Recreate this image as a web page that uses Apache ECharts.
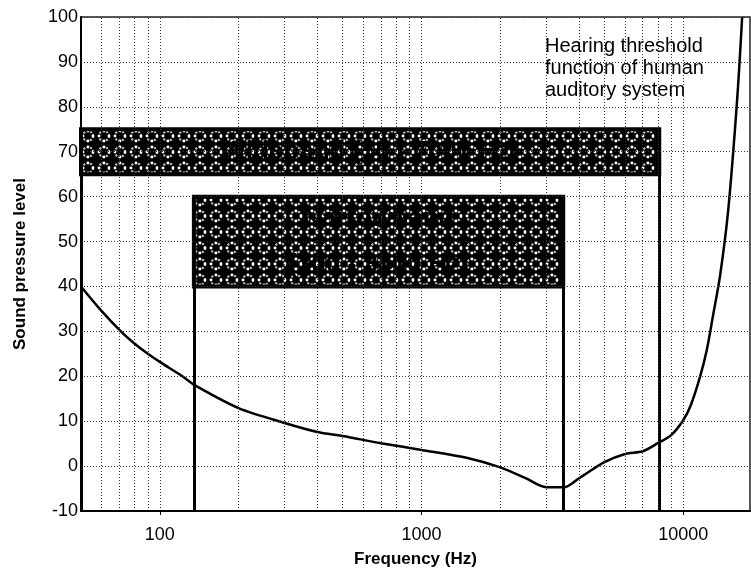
<!DOCTYPE html>
<html>
<head>
<meta charset="utf-8">
<script src="https://cdn.jsdelivr.net/npm/echarts@6/dist/echarts.min.js"></script>
<style>
  html, body { margin: 0; padding: 0; background: #fff; }
  #chart { width: 751px; height: 570px; }
</style>
</head>
<body>
<div id="chart"></div>
<script>
// hearing threshold curve, [frequency Hz, SPL]
const thresholdFreq = [50, 60, 71, 80, 90, 100, 122, 136, 200, 300, 400, 500, 700, 1000, 1500, 2000, 2500, 3000, 3500, 4000, 5000, 6000, 7000, 8000, 9000, 10000, 10700, 11600, 12300, 13000, 13840, 14860, 16070, 16800]
const thresholdSpl = [40, 34.5, 30, 27.3, 25, 23.2, 20, 18, 12.9, 9.6, 7.6, 6.7, 5.1, 3.6, 1.8, -0.3, -2.7, -4.7, -4.7, -2.7, 0.9, 2.7, 3.3, 5.1, 6.9, 10.2, 13.6, 19.9, 25.8, 33.5, 42.5, 57, 81.5, 100]

// bands: [fromHz, toHz, lowSpl, highSpl]
const widebandBox = [50, 8100, 65, 75]
const narrowbandBox = [135, 3480, 40, 60]
const widebandLabel = 'Wideband (50 - 7000 Hz)'
const narrowbandLabel = 'Narrowband\n(300 - 3400 Hz)'

// vertical grid lines on the log axis
const gridFreqs = [60, 70, 80, 90, 100, 200, 300, 400, 500, 600, 700, 800, 900, 1000,
  2000, 3000, 4000, 5000, 6000, 7000, 8000, 9000, 10000]

const xMin = 50
const xMax = 18000
const yMin = -10
const yMax = 100
const yStep = 10

const FONT = "'Liberation Sans', Arial, sans-serif"

// speckled hatch fill like the scanned figure
function makePattern() {
  let c = document.createElement('canvas')
  c.width = 16
  c.height = 16
  let ctx = c.getContext('2d')
  ctx.fillStyle = '#000'
  ctx.fillRect(0, 0, 16, 16)
  ctx.strokeStyle = '#bdbdbd'
  ctx.lineWidth = 2.2
  ctx.setLineDash([2, 1.6])
  ctx.beginPath()
  ctx.arc(8, 8, 5, 0, Math.PI * 2)
  ctx.stroke()
  ctx.setLineDash([])
  ctx.fillStyle = '#fff'
  let dots = [[8, 3], [3, 8], [13, 8], [8, 13]]
  dots.forEach(d => {
    ctx.beginPath()
    ctx.arc(d[0], d[1], 1.4, 0, Math.PI * 2)
    ctx.fill()
  })
  return c
}

let myChart = echarts.init(document.getElementById('chart'))
let pattern = { image: makePattern(), repeat: 'repeat' }

function boxArea(b, text, lineHeight) {
  return [
    {
      coord: [b[0], b[3]],
      label: {
        show: true,
        position: 'inside',
        formatter: text,
        color: '#000',
        fontSize: 26,
        fontWeight: 'bold',
        fontFamily: FONT,
        lineHeight: lineHeight,
        align: 'center'
      }
    },
    { coord: [b[1], b[2]] }
  ]
}

function dropLine(x, yTop) {
  return [{ coord: [x, yTop] }, { coord: [x, yMin] }]
}

let option = {
  animation: false,
  backgroundColor: '#fff',
  grid: {
    left: 81,
    right: 1,
    top: 17,
    bottom: 59,
    outerBoundsMode: 'none',
    show: true,
    borderColor: '#222',
    borderWidth: 1.5
  },
  xAxis: {
    type: 'log',
    logBase: 10,
    min: xMin,
    max: xMax,
    z: 5,
    name: 'Frequency (Hz)',
    nameLocation: 'middle',
    nameGap: 40,
    nameTextStyle: { color: '#000', fontSize: 17, fontWeight: 'bold', fontFamily: FONT },
    axisLine: { onZero: false, lineStyle: { color: '#000', width: 2 } },
    axisTick: { show: true, length: 4, lineStyle: { color: '#000' } },
    axisLabel: {
      color: '#000',
      fontSize: 18,
      fontFamily: FONT,
      margin: 15,
      showMinLabel: false,
      showMaxLabel: false,
      formatter: v => String(Math.round(v))
    },
    splitLine: { show: false }
  },
  yAxis: {
    type: 'value',
    min: yMin,
    max: yMax,
    interval: yStep,
    z: 5,
    name: 'Sound pressure level',
    nameLocation: 'middle',
    nameGap: 52,
    nameTextStyle: { color: '#000', fontSize: 17, fontWeight: 'bold', fontFamily: FONT },
    axisLine: { show: true, onZero: false, lineStyle: { color: '#000', width: 2 } },
    axisTick: { show: false },
    axisLabel: { color: '#000', fontSize: 18, fontFamily: FONT, margin: 3 },
    splitLine: { show: true, lineStyle: { color: '#333', width: 1, type: [1, 2] } }
  },
  graphic: [
    {
      type: 'text',
      left: 545,
      top: 35,
      z: 10,
      style: {
        text: 'Hearing threshold\nfunction of human\nauditory system',
        fill: '#000',
        fontSize: 20,
        fontFamily: FONT,
        lineHeight: 22
      }
    }
  ],
  series: [
    {
      // hatched bands
      type: 'line',
      data: [],
      z: 1,
      silent: true,
      markArea: {
        silent: true,
        itemStyle: { color: pattern, borderColor: '#000', borderWidth: 4 },
        data: [
          boxArea(widebandBox, widebandLabel, 30),
          boxArea(narrowbandBox, narrowbandLabel, 46)
        ]
      },
      markLine: {
        silent: true,
        symbol: 'none',
        label: { show: false },
        lineStyle: { color: '#000', width: 3, type: 'solid' },
        data: [
          dropLine(widebandBox[0], widebandBox[2]),
          dropLine(widebandBox[1], widebandBox[2]),
          dropLine(narrowbandBox[0], narrowbandBox[2]),
          dropLine(narrowbandBox[1], narrowbandBox[2])
        ]
      }
    },
    {
      // vertical grid lines
      type: 'line',
      data: [],
      z: 2,
      silent: true,
      markLine: {
        silent: true,
        symbol: 'none',
        label: { show: false },
        lineStyle: { color: '#333', width: 1, type: [1, 2] },
        data: gridFreqs.map(f => ({ xAxis: f }))
      }
    },
    {
      name: 'Hearing threshold',
      type: 'line',
      z: 3,
      smooth: 0.3,
      showSymbol: false,
      symbol: 'none',
      lineStyle: { color: '#000', width: 2.5 },
      data: thresholdFreq.map((f, i) => [f, thresholdSpl[i]])
    }
  ]
}

myChart.setOption(option)
</script>
</body>
</html>
